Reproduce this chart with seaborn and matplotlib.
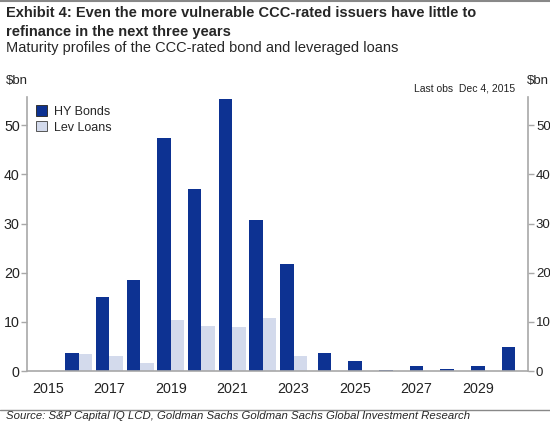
import numpy as np
import pandas as pd
import seaborn as sns
import matplotlib.pyplot as plt
from matplotlib.patches import Patch

# DATA ($bn)
years_pair = [2015, 2016, 2017, 2018, 2019, 2020, 2021, 2022, 2023]
hy_pair = [0.0, 3.6, 15.0, 18.5, 47.4, 37.0, 55.4, 30.8, 21.7]
lev_pair = [0.0, 3.5, 3.0, 1.7, 10.4, 9.2, 9.0, 10.8, 3.0]

# later years only have HY bonds, drawn centred on the year
years_single = [2024, 2025, 2026, 2027, 2028, 2029, 2030]
hy_single = [3.6, 2.0, 0.3, 1.0, 0.5, 1.0, 4.8]

series_names = ['HY Bonds', 'Lev Loans']
tick_years = [2015, 2017, 2019, 2021, 2023, 2025, 2027, 2029]
y_ticks = [0, 10, 20, 30, 40, 50]

NAVY = '#0D3292'
LIGHT = '#D3DAEC'
GREY = '#A8A8A8'

sns.set_style('white')
plt.rcParams['font.family'] = ['Liberation Sans', 'DejaVu Sans']

df_pair = pd.DataFrame({
    'year': years_pair * 2,
    'value': hy_pair + lev_pair,
    'series': [series_names[0]] * len(years_pair) + [series_names[1]] * len(years_pair),
})
df_single = pd.DataFrame({'year': years_single, 'value': hy_single})

fig = plt.figure(figsize=(5.5, 4.23), dpi=100)
ax = fig.add_axes([0.0497, 0.1229, 0.9108, 0.6485])

sns.barplot(data=df_pair, x='year', y='value', hue='series', hue_order=series_names,
            palette=[NAVY, LIGHT], native_scale=True, width=0.88, dodge=True,
            saturation=1, errorbar=None, linewidth=0, legend=False, ax=ax)
sns.barplot(data=df_single, x='year', y='value', color=NAVY, native_scale=True,
            width=0.44, saturation=1, errorbar=None, linewidth=0, ax=ax)

ax.set_xlim(2014.33, 2030.64)
ax.set_ylim(0, 55.8)
ax.set_xticks(tick_years)
ax.set_xticklabels([str(y) for y in tick_years])
ax.set_yticks(y_ticks)
ax.set_xlabel('')
ax.set_ylabel('')

for side in ['left', 'right', 'bottom']:
    ax.spines[side].set_color(GREY)
    ax.spines[side].set_linewidth(1.2)
ax.spines['top'].set_visible(False)
ax.tick_params(axis='both', direction='out', length=4, width=1, color=GREY,
               labelsize=10.3, labelcolor='#222222', pad=2)
ax.tick_params(axis='y', right=True, labelright=True, left=True, labelleft=True)
ax.tick_params(axis='x', pad=4)
# right-hand labels sit tight against the figure edge
for lab in ax.get_yticklabels(which='major'):
    pass
for t in ax.yaxis.get_major_ticks():
    t.label2.set_fontsize(9.5)
ax.yaxis.set_tick_params(which='major', pad=1.5)

handles = [Patch(facecolor=NAVY, edgecolor='#333333', linewidth=0.7),
           Patch(facecolor=LIGHT, edgecolor='#555555', linewidth=0.7)]
leg = ax.legend(handles, series_names, loc='upper left', frameon=False, fontsize=9,
                handlelength=0.9, handleheight=0.9, handletextpad=0.5,
                labelspacing=0.25, borderaxespad=0.3, bbox_to_anchor=(0.0, 1.0))

# titles and notes
fig.text(0.011, 0.986, 'Exhibit 4: Even the more vulnerable CCC-rated issuers have little to\n'
         'refinance in the next three years', fontsize=10.5, fontweight='bold',
         va='top', ha='left', linespacing=1.45)
fig.text(0.011, 0.887, 'Maturity profiles of the CCC-rated bond and leveraged loans',
         fontsize=10.5, va='center', ha='left')
fig.text(0.011, 0.808, '$bn', fontsize=9.5, va='center', ha='left')
fig.text(0.998, 0.808, '$bn', fontsize=9.5, va='center', ha='right')
fig.text(0.937, 0.790, 'Last obs  Dec 4, 2015', fontsize=7.5, va='center', ha='right',
         color='#222222')
fig.text(0.011, 0.005, 'Source: S&P Capital IQ LCD, Goldman Sachs Goldman Sachs Global Investment Research',
         fontsize=8.2, style='italic', va='bottom', ha='left')

# rules at top and above the source line
fig.add_artist(plt.Line2D([0, 1], [0.997, 0.997], color='#888888', linewidth=1.5))
fig.add_artist(plt.Line2D([0, 1], [0.031, 0.031], color='#888888', linewidth=1.0))

fig.savefig('out.png', dpi=100)
